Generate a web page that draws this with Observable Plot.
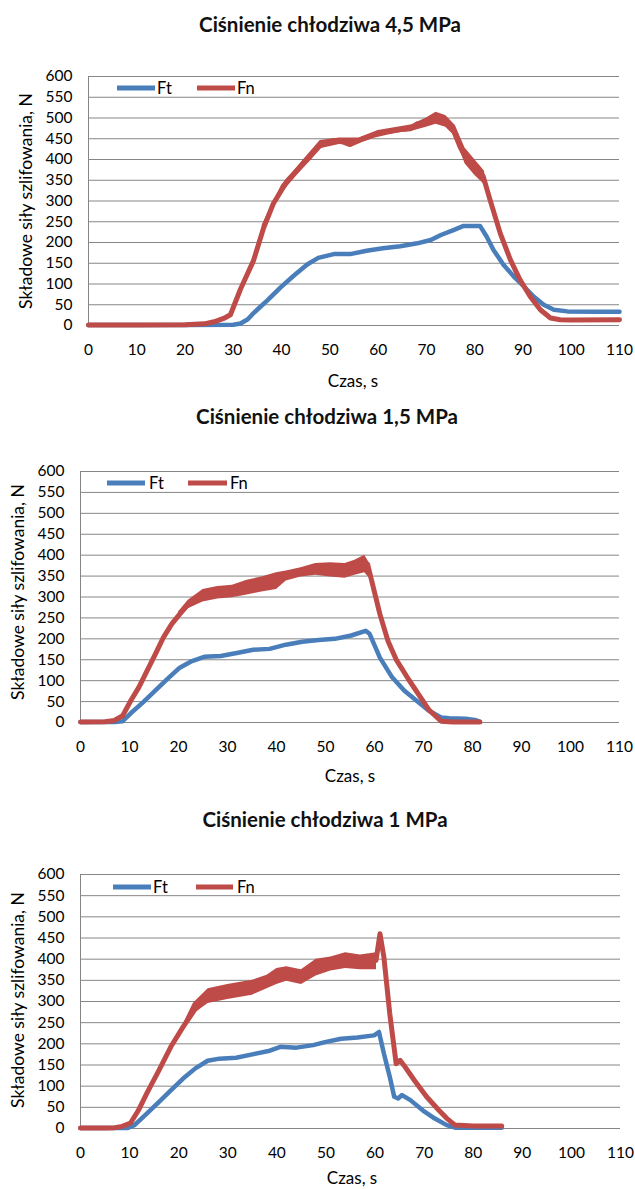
<!DOCTYPE html>
<html><head><meta charset="utf-8">
<script src="https://cdn.jsdelivr.net/npm/d3@7"></script>
<script src="https://cdn.jsdelivr.net/npm/@observablehq/plot@0.6"></script>
<style>
body{margin:0;background:#fff;font-family:Lato,"DejaVu Sans",sans-serif;}
#root{position:relative;width:635px;height:1189px;overflow:hidden;background:#fff;}
.abs{position:absolute;white-space:nowrap;color:#000;line-height:1;}
.c{transform:translate(-50%,-50%);}
.title{font-weight:bold;font-size:20.5px;color:#111;}
.lab{font-size:17px;}
.ylab{font-size:17.5px;transform:translate(-50%,-50%) rotate(-90deg);}
.leg{font-size:16.5px;transform:translateY(-50%);}
.legline{position:absolute;height:5px;transform:translateY(-50%);}
svg{position:absolute;left:0;}
</style>
</head><body><div id="root"></div>
<script>
// ---------- shared ----------
const titles = ["Ciśnienie chłodziwa 4,5 MPa","Ciśnienie chłodziwa 1,5 MPa","Ciśnienie chłodziwa 1 MPa"];
const yLabel = "Składowe siły szlifowania, N";
const xLabel = "Czas, s";
const seriesNames = ["Ft","Fn"];
const xTicks = [0,10,20,30,40,50,60,70,80,90,100,110];
const yTicks = [0,50,100,150,200,250,300,350,400,450,500,550,600];

// ---------- panel 1 : 4,5 MPa ----------
const tFt1 = [0,10,20,30,31.5,33,34.2,37,39.8,42.5,45.3,47.6,50.8,54.2,57.6,61,64.6,68.1,70.9,73,75.6,77.7,81.1,82.5,83.9,86,88.1,90.2,92.2,94.3,96.4,99.2,105,110];
const ft1  = [1,1,1,2,5,15,30,60,92,120,147,163,172,172,180,186,191,198,206,218,230,240,240,214,182,146,118,94,70,50,38,34,33,33];
const tFn1 = [0,10,20,24,26,28,29.4,31.5,34.2,36.3,38.3,41.2,43.9,46,48,50.8,52.8,54.2,56.3,59,61.9,64.6,66.7,68.1,70.2,72.3,73.6,75.6,77,78.4,80.5,81.8,83.2,85.3,87.4,89.4,91.5,93.6,95.7,97.7,100,110];
const fn1  = [1,1,2,4,9,17,26,88,157,236,294,349,382,408,434,446,442,436,447,458,466,472,474,486,490,502,494,470,430,398,382,358,302,222,158,110,70,38,18,14,13,14];
const tBand1 = [36,40,44,48,52,56,60,64,67,70,72,74,76,78,80,82,83];
const lo1 = [230,318,372,426,436,438,456,464,468,478,485,478,455,390,362,340,296];
const hi1 = [242,338,392,446,452,452,470,478,484,500,514,506,482,428,400,372,306];

// ---------- panel 2 : 1,5 MPa ----------
const tFt2 = [0,5,7,8.6,10.25,12.75,15.25,17.75,20.25,22.75,25.25,28.6,31.9,35.25,38.6,41.9,45.25,48.6,51.9,55.25,58.2,59,61.1,63.6,66.1,68.6,71.1,73.6,75.25,78.6,80.5,81.5];
const ft2  = [1,1,1,3,22,48,76,104,131,147,157,159,166,174,176,186,193,197,200,208,219,212,155,108,76,52,28,12,10,9,6,2];
const tFn2 = [0,5,6.9,8.6,10.25,11.9,13.6,15.25,16.9,18.6,20.25,21.9,24.4,26.9,30.25,33.6,36.9,40.25,41.9,45.25,48.6,51.9,55.25,57.75,58.6,59.4,61.1,62.75,64.4,66.9,69.4,71.1,73.6,76,81.5];
const fn2  = [1,2,5,16,52,84,124,163,203,235,259,281,300,310,310,322,330,340,355,362,368,367,372,385,378,340,259,195,151,104,60,30,3,1,1];
const tBand2 = [20,22,25,28,31,34,37,40,42,45,48,51,54,56,58,59];
const lo2 = [252,272,288,295,298,305,312,318,338,348,352,348,345,352,358,345];
const hi2 = [264,292,318,325,328,340,348,358,362,370,380,382,380,388,400,380];

// ---------- panel 3 : 1 MPa ----------
const tFt3 = [0,5,9.5,11,13.5,16,18.4,20.9,23.4,25.9,28.3,31.7,35,38.3,40.7,44,47.4,49.8,53.1,56.4,59.8,60.8,61.8,63,63.9,64.7,65.5,67.2,69.7,72.1,74.6,76.3,80,85.8];
const ft3  = [1,1,1,8,35,63,90,118,142,160,165,167,175,183,193,191,197,204,212,215,220,228,177,122,75,71,79,67,43,24,8,2,2,2];
const tFn3 = [0,5,7,8.5,10.2,11.8,13.5,16,18.4,20.9,23.4,25.9,28.3,31.7,35,38.3,41.6,44.9,48.2,51.5,54.8,58.1,60.2,61,61.8,63,64.3,65.1,65.9,68,70.5,73,74.6,76.3,80,85.8];
const fn3  = [1,1,2,5,13,43,83,138,193,240,283,311,318,322,334,346,366,362,385,393,401,397,397,460,405,271,153,161,149,114,75,43,24,8,6,6];
const tBand3 = [21,23,26,30,35,38,40,42,45,48,51,54,57,60.3];
const lo3 = [232,270,295,305,315,330,340,348,340,360,372,378,375,375];
const hi3 = [248,296,330,340,350,362,378,382,375,400,405,415,410,415];

// ---------- style ----------
const BLUE = "#4A7EBB", RED = "#BE4B48", GRID = "#868686";

const zip = (t, v) => t.map((x, i) => ({x, y: v[i]}));
const zip3 = (t, a, b) => t.map((x, i) => ({x, y1: a[i], y2: b[i]}));

const panels = [
  {tFt:tFt1, ft:ft1, tFn:tFn1, fn:fn1, tB:tBand1, lo:lo1, hi:hi1,
   left:88, right:619, top:76, bottom:325, title:[330,24], ylab:[26,201], xlab:[353,380], legY:88, leg:[117,155,157,197,235,237]},
  {tFt:tFt2, ft:ft2, tFn:tFn2, fn:fn2, tB:tBand2, lo:lo2, hi:hi2,
   left:80, right:619, top:471, bottom:722, title:[327,416], ylab:[18,592], xlab:[350,775], legY:483, leg:[107,145,149,188,227,230]},
  {tFt:tFt3, ft:ft3, tFn:tFn3, fn:fn3, tB:tBand3, lo:lo3, hi:hi3,
   left:80, right:620, top:874, bottom:1128, title:[325,819], ylab:[18,1000], xlab:[352,1177], legY:887, leg:[113,151,153,196,233,237]}
];

const root = document.getElementById("root");
function addText(txt, cls, x, y) {
  const d = document.createElement("div");
  d.className = "abs " + cls;
  d.textContent = txt;
  d.style.left = x + "px"; d.style.top = y + "px";
  root.appendChild(d);
  return d;
}

panels.forEach((p, i) => {
  const mt = 30, mb = 62;
  const h = (p.bottom - p.top) + mt + mb;
  const svg = Plot.plot({
    width: 635, height: h,
    marginLeft: p.left, marginRight: 635 - p.right, marginTop: mt, marginBottom: mb,
    style: {fontFamily: "Lato, sans-serif", fontSize: "15.5px", color: "#000", background: "transparent"},
    x: {domain: [0, 110], ticks: xTicks, tickSize: 0, tickPadding: 18, label: null},
    y: {domain: [0, 600], ticks: yTicks, tickSize: 0, tickPadding: 16, label: null},
    marks: [
      Plot.ruleY(yTicks, {stroke: GRID, strokeWidth: 1}),
      Plot.ruleX([0], {stroke: GRID, strokeWidth: 1}),
      Plot.line(zip(p.tFt, p.ft), {x: "x", y: "y", stroke: BLUE, strokeWidth: 4.5, strokeLinejoin: "round"}),
      Plot.areaY(zip3(p.tB, p.lo, p.hi), {x: "x", y1: "y1", y2: "y2", fill: RED, curve: "linear"}),
      Plot.line(zip(p.tFn, p.fn), {x: "x", y: "y", stroke: RED, strokeWidth: 5, strokeLinejoin: "round"})
    ]
  });
  svg.style.top = (p.top - mt) + "px";
  root.appendChild(svg);

  addText(titles[i], "title c", p.title[0], p.title[1]);
  addText(yLabel, "ylab", p.ylab[0], p.ylab[1]);
  addText(xLabel, "lab c", p.xlab[0], p.xlab[1]);

  // legend
  const [b0, b1, ftx, r0, r1, fnx] = p.leg;
  [[b0, b1, BLUE], [r0, r1, RED]].forEach(([a, b, col]) => {
    const l = document.createElement("div");
    l.className = "legline";
    l.style.left = a + "px"; l.style.width = (b - a) + "px"; l.style.top = p.legY + "px";
    l.style.background = col;
    root.appendChild(l);
  });
  addText(seriesNames[0], "leg", ftx, p.legY);
  addText(seriesNames[1], "leg", fnx, p.legY);
});
</script>
</body></html>
